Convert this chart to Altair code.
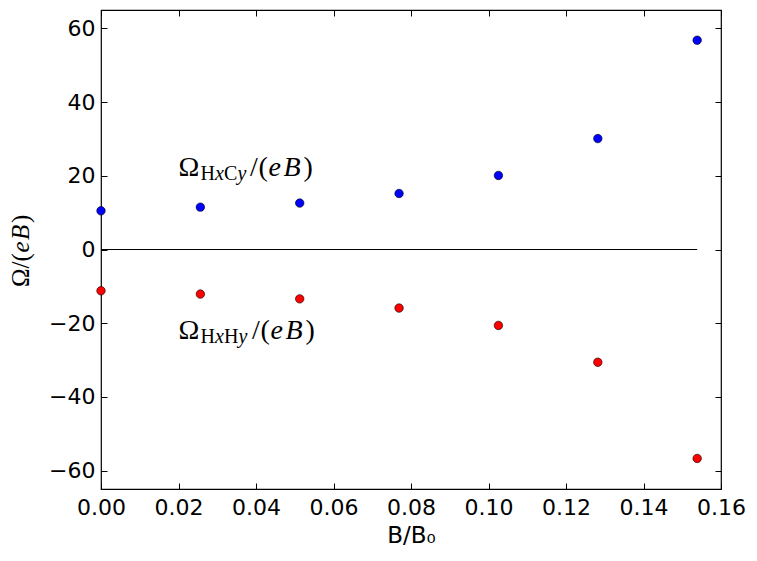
import altair as alt
import pandas as pd

# ---- data ----
B_RATIO = [0.0, 0.02564, 0.05128, 0.07692, 0.10256, 0.12821, 0.15385]
OMEGA_HXCY = [10.5, 11.5, 12.6, 15.2, 20.1, 30.1, 56.8]
OMEGA_HXHY = [-11.2, -12.1, -13.4, -15.9, -20.6, -30.6, -56.7]
SERIES = ["HxCy", "HxHy"]
COLORS = ["#0000ff", "#ff0000"]
X_TICKS = [0.0, 0.02, 0.04, 0.06, 0.08, 0.10, 0.12, 0.14, 0.16]
Y_TICKS = [-60, -40, -20, 0, 20, 40, 60]
X_DOMAIN = [0.0, 0.16]
Y_DOMAIN = [-65, 65]
ZERO_LINE_X = [0.0, 0.15385]
LABEL_X = [0.02, 0.02]
LABEL_Y = [20.0, -24.4]

# label pieces: (text, style, size, dx, dy)
LABEL_PIECES = [
    [("Ω", "normal", 28, 0, 0), ("H", "normal", 20, 22, 4), ("x", "italic", 20, 36.5, 4),
     ("C", "normal", 20, 45.5, 4), ("y", "italic", 20, 59, 4), ("/", "normal", 28, 71.5, 0),
     ("(", "normal", 28, 80, 0), ("e", "italic", 28, 90, 0), ("B", "italic", 28, 105, 0),
     (")", "normal", 28, 125, 0)],
    [("Ω", "normal", 28, 0, 0), ("H", "normal", 20, 22, 4), ("x", "italic", 20, 36.5, 4),
     ("H", "normal", 20, 45.5, 4), ("y", "italic", 20, 60, 4), ("/", "normal", 28, 73.5, 0),
     ("(", "normal", 28, 82, 0), ("e", "italic", 28, 92, 0), ("B", "italic", 28, 107, 0),
     (")", "normal", 28, 127, 0)],
]
YTITLE_PIECES = [("Ω/(", "normal", 25, 0), ("e", "italic", 25, 34.5), ("B", "italic", 25, 47), (")", "normal", 25, 64)]

SERIF = "Liberation Serif"
SANS = "DejaVu Sans"

points = pd.DataFrame({
    "x": B_RATIO * 2,
    "y": OMEGA_HXCY + OMEGA_HXHY,
    "series": [SERIES[0]] * len(B_RATIO) + [SERIES[1]] * len(B_RATIO),
})
zero = pd.DataFrame({"x": [ZERO_LINE_X[0]], "x2": [ZERO_LINE_X[1]], "y": [0.0]})

xs = alt.Scale(domain=X_DOMAIN, nice=False, zero=False)
ys = alt.Scale(domain=Y_DOMAIN, nice=False, zero=False)

TICK = 6
common_axis = dict(tickSize=TICK, offset=-TICK, domain=False, grid=False,
                   tickColor="black", tickWidth=1, labelColor="black",
                   labelFont=SANS, labelFontSize=22)

x_axis = alt.Axis(values=X_TICKS, format=".2f", labelPadding=8, title="B/B₀",
                  titleFont=SANS, titleFontSize=23, titleFontWeight="normal",
                  titleColor="black", titlePadding=6, labelFlush=False, **common_axis)
y_axis = alt.Axis(values=Y_TICKS, format="d", labelPadding=6, title=None, **common_axis)

rule = alt.Chart(zero).mark_rule(color="black", strokeWidth=1.2).encode(
    x=alt.X("x:Q", scale=xs, axis=x_axis), x2="x2:Q", y=alt.Y("y:Q", scale=ys, axis=y_axis))

dots = alt.Chart(points).mark_circle(size=72, stroke="black", strokeWidth=0.6, opacity=1).encode(
    x=alt.X("x:Q", scale=xs, axis=x_axis),
    y=alt.Y("y:Q", scale=ys, axis=y_axis),
    color=alt.Color("series:N", scale=alt.Scale(domain=SERIES, range=COLORS), legend=None),
)

layers = [rule, dots]
for i, pieces in enumerate(LABEL_PIECES):
    for txt, style, size, dx, dy in pieces:
        df = pd.DataFrame({"x": [LABEL_X[i]], "y": [LABEL_Y[i]], "t": [txt]})
        layers.append(alt.Chart(df).mark_text(
            align="left", baseline="alphabetic", font=SERIF, fontSize=size,
            fontStyle=style, dx=dx, dy=dy, color="black").encode(
            x=alt.X("x:Q", scale=xs), y=alt.Y("y:Q", scale=ys), text="t:N"))

for txt, style, size, dx in YTITLE_PIECES:
    df = pd.DataFrame({"t": [txt]})
    layers.append(alt.Chart(df).mark_text(
        align="left", baseline="alphabetic", font=SERIF, fontSize=size, fontStyle=style,
        angle=270, dx=dx, color="black").encode(
        x=alt.value(-72), y=alt.value(277), text="t:N"))

main = alt.layer(*layers)

mirror_axis = dict(labels=False, title=None, **common_axis)
mirror = alt.Chart(points).mark_circle(opacity=0).encode(
    x=alt.X("x:Q", scale=xs, axis=alt.Axis(values=X_TICKS, orient="top", **mirror_axis)),
    y=alt.Y("y:Q", scale=ys, axis=alt.Axis(values=Y_TICKS, orient="right", **mirror_axis)),
)

chart = alt.layer(main, mirror).resolve_scale(x="independent", y="independent").properties(
    width=620, height=479,
    padding={"left": 93, "top": 2, "right": 28, "bottom": 68},
    autosize=alt.AutoSizeParams(type="none"),
    background="white",
).configure_view(stroke="black", strokeWidth=1.2)

chart.save("out.html", embed_options={"renderer": "svg", "actions": False})
